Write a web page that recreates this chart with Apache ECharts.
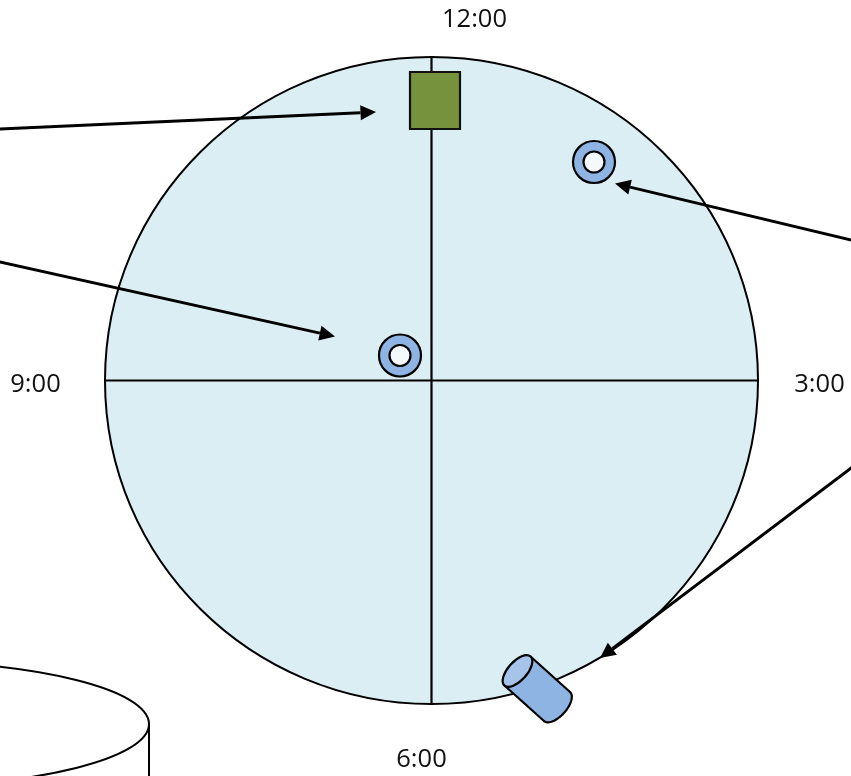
<!DOCTYPE html>
<html>
<head>
<meta charset="utf-8">
<style>html,body{margin:0;padding:0;background:#fff}#c{width:851px;height:776px}</style>
<script src="https://cdn.jsdelivr.net/npm/echarts@6/dist/echarts.min.js"></script>
</head>
<body>
<div id="c"></div>
<script>
// cx, cy, rx, ry
const dial = [[431.5, 380.5, 326.5, 323.5]];
const crosshair = [[105, 380.5, 758, 380.5], [431.5, 57, 431.5, 704]];
const block = [[410, 72, 460, 129]];
const rings = [[594, 162, 21, 10.5], [400, 355.5, 21, 10.5]];
const arrows = [[-2, 129, 376, 112], [-2, 261.5, 335, 336.5], [853, 240.5, 615, 183.5], [853, 466.5, 600, 658]];
// start-centre x,y  end-centre x,y  half width  lid half depth
const cylinder = [[517.5, 671, 557, 706.5, 19.5, 9.5]];
// cx, cy, rx, ry, stand x, stand bottom
const tank = [[-100, 724, 249, 62.2, 149, 776]];
const clockLabels = ['12:00', '9:00', '3:00', '6:00'];
const clockX = [474.5, 35.5, 819.5, 421.5];
const clockY = [19.5, 384.5, 384.5, 759.5];

const INK = '#000';
function ell(api, cx, cy, rx, ry, style) {
  const c = api.coord([cx, cy]), s = api.size([rx, ry]);
  return { type: 'ellipse', shape: { cx: 0, cy: 0, rx: s[0], ry: s[1] }, x: c[0], y: c[1], style };
}
function custom(data, renderItem, z) {
  return { type: 'custom', coordinateSystem: 'cartesian2d', data, renderItem, z, clip: false, silent: true, animation: false, encode: { x: 0, y: 1 } };
}
const val = (api, n) => Array.from({ length: n }, (_, i) => api.value(i));

const option = {
  animation: false,
  backgroundColor: '#fff',
  grid: { left: 0, right: 0, top: 0, bottom: 0 },
  xAxis: { type: 'value', min: 0, max: 851, show: false },
  yAxis: { type: 'value', min: 0, max: 776, inverse: true, show: false },
  series: [
    custom(dial, (p, api) => {
      const [cx, cy, rx, ry] = val(api, 4);
      return ell(api, cx, cy, rx, ry, { fill: '#DBEEF4', stroke: INK, lineWidth: 2 });
    }, 1),
    custom(crosshair, (p, api) => {
      const [a, b, c, d] = val(api, 4);
      const s = api.coord([a, b]), e = api.coord([c, d]);
      return { type: 'line', shape: { x1: s[0], y1: s[1], x2: e[0], y2: e[1] }, style: { stroke: INK, lineWidth: 2.2 } };
    }, 2),
    custom(block, (p, api) => {
      const [a, b, c, d] = val(api, 4);
      const s = api.coord([a, b]), e = api.coord([c, d]);
      return { type: 'rect', shape: { x: s[0], y: s[1], width: e[0] - s[0], height: e[1] - s[1] }, style: { fill: '#76923C', stroke: '#111', lineWidth: 2.2 } };
    }, 3),
    custom(rings, (p, api) => {
      const [cx, cy, R, r] = val(api, 4);
      return { type: 'group', children: [
        ell(api, cx, cy, R, R, { fill: '#8EB4E3', stroke: INK, lineWidth: 2.2 }),
        ell(api, cx, cy, r, r, { fill: '#F4FAFC', stroke: INK, lineWidth: 2.2 })
      ] };
    }, 3),
    custom(cylinder, (p, api) => {
      const [x0, y0, x1, y1, w, d] = val(api, 6);
      const a = api.coord([x0, y0]), b = api.coord([x1, y1]);
      const ang = Math.atan2(b[1] - a[1], b[0] - a[0]);
      const ux = Math.cos(ang), uy = Math.sin(ang), vx = -uy, vy = ux;
      const pts = [[a[0] - vx * w, a[1] - vy * w]];
      for (let i = 0; i <= 36; i++) {
        const t = -Math.PI / 2 + Math.PI * i / 36;
        const l = Math.cos(t) * d, m = Math.sin(t) * w;
        pts.push([b[0] + ux * l + vx * m, b[1] + uy * l + vy * m]);
      }
      pts.push([a[0] + vx * w, a[1] + vy * w]);
      return { type: 'group', children: [
        { type: 'polygon', shape: { points: pts }, style: { fill: '#8EB4E3', stroke: INK, lineWidth: 2.2, lineJoin: 'round' } },
        { type: 'ellipse', shape: { cx: 0, cy: 0, rx: d, ry: w }, x: a[0], y: a[1], rotation: -ang, style: { fill: '#A6C4EA', stroke: INK, lineWidth: 2.2 } }
      ] };
    }, 4),
    custom(arrows, (p, api) => {
      const [x0, y0, x1, y1] = val(api, 4);
      const s = api.coord([x0, y0]), e = api.coord([x1, y1]);
      const ang = Math.atan2(e[1] - s[1], e[0] - s[0]);
      const L = 15.5, W = 7.5;
      const ux = Math.cos(ang), uy = Math.sin(ang), vx = -uy, vy = ux;
      const bx = e[0] - ux * L, by = e[1] - uy * L;
      return { type: 'group', children: [
        { type: 'line', shape: { x1: s[0], y1: s[1], x2: bx, y2: by }, style: { stroke: INK, lineWidth: 3 } },
        { type: 'polygon', shape: { points: [[e[0], e[1]], [bx + vx * W, by + vy * W], [bx - vx * W, by - vy * W]] }, style: { fill: INK } }
      ] };
    }, 5),
    custom(tank, (p, api) => {
      const [cx, cy, rx, ry, sx, sb] = val(api, 6);
      const top = api.coord([sx, cy]), bot = api.coord([sx, sb]);
      return { type: 'group', children: [
        ell(api, cx, cy, rx, ry, { fill: 'none', stroke: INK, lineWidth: 2 }),
        { type: 'line', shape: { x1: top[0], y1: top[1], x2: bot[0], y2: bot[1] }, style: { stroke: INK, lineWidth: 2 } }
      ] };
    }, 2),
    custom(clockLabels.map((t, i) => [clockX[i], clockY[i], t]), (p, api) => {
      const c = api.coord([api.value(0), api.value(1)]);
      return { type: 'text', x: c[0], y: c[1], style: { text: clockLabels[p.dataIndex], fill: '#111', font: '25.5px "Open Sans"', align: 'center', verticalAlign: 'middle' } };
    }, 6)
  ]
};
const chart = echarts.init(document.getElementById('c'), null, { renderer: 'canvas' });
chart.setOption(option);
</script>
</body>
</html>
